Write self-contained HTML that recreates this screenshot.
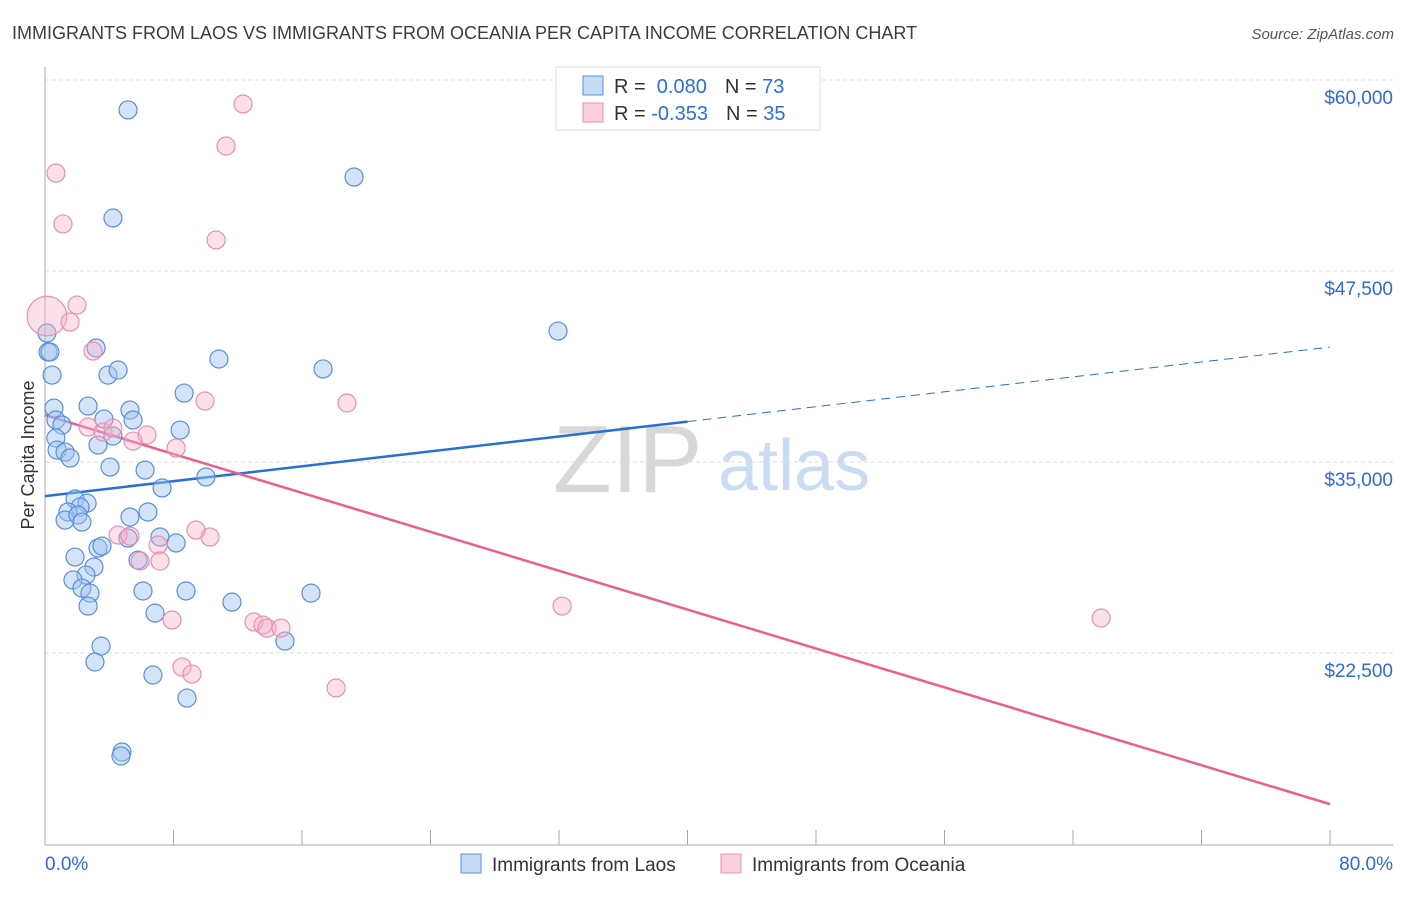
<!DOCTYPE html>
<html><head><meta charset="utf-8"><style>
body{margin:0;background:#fff;font-family:"Liberation Sans",sans-serif;}
svg text{font-family:"Liberation Sans",sans-serif;}
</style></head><body>
<svg id="chart" width="1406" height="892" viewBox="0 0 1406 892" xmlns="http://www.w3.org/2000/svg">
<text x="12" y="39" font-size="18" fill="#3c3c3c">IMMIGRANTS FROM LAOS VS IMMIGRANTS FROM OCEANIA PER CAPITA INCOME CORRELATION CHART</text>
<text x="1394" y="39" font-size="15" fill="#555" text-anchor="end" font-style="italic">Source: ZipAtlas.com</text>
<g>
<text x="553" y="492" font-size="96" fill="#d8d8d8" font-family="Liberation Serif,serif">ZIP</text>
<text x="718" y="490" font-size="72" fill="#c9dcf3">atlas</text>
</g>
<g id="grid"></g>
<g id="axes"></g>
<g id="trends"></g>
<g id="pts"></g>
<text transform="translate(34,455) rotate(-90)" font-size="18" fill="#333" text-anchor="middle">Per Capita Income</text>
<g>
<rect x="556" y="67" width="264" height="63" fill="#fff" stroke="#ddd"/>
<rect x="583" y="76" width="20" height="19" fill="rgba(160,196,240,0.6)" stroke="#5b8fd8"/>
<rect x="583" y="103" width="20" height="19" fill="rgba(245,175,200,0.6)" stroke="#e890b0"/>
<text x="614" y="93" font-size="20" fill="#333">R = <tspan fill="#2a6fd6">&#160;0.080</tspan><tspan dx="18">N = </tspan><tspan fill="#2a6fd6">73</tspan></text>
<text x="614" y="120" font-size="20" fill="#333">R = <tspan fill="#2a6fd6">-0.353</tspan><tspan dx="18">N = </tspan><tspan fill="#2a6fd6">35</tspan></text>
</g>
<g>
<rect x="461" y="854" width="20" height="19" fill="rgba(160,196,240,0.6)" stroke="#5b8fd8"/>
<text x="492" y="871" font-size="19" fill="#333">Immigrants from Laos</text>
<rect x="721" y="854" width="20" height="19" fill="rgba(245,175,200,0.6)" stroke="#e890b0"/>
<text x="752" y="871" font-size="19" fill="#333">Immigrants from Oceania</text>
</g>
</svg>
<script>
const yTicks=[60000,47500,35000,22500];
const yTickLabels=["$60,000","$47,500","$35,000","$22,500"];
const xTickLabels=["0.0%","80.0%"];
const laosX=[5.17,19.24,4.23,31.94,0.12,0.19,0.31,3.18,0.44,3.92,4.55,10.83,17.31,8.66,0.56,2.68,5.29,0.68,1.06,3.67,5.48,0.68,4.23,8.41,3.30,0.75,1.25,1.56,4.05,6.23,10.02,7.29,1.87,2.62,2.18,6.41,1.43,1.25,2.05,2.30,5.29,3.30,3.55,1.87,7.16,8.16,5.17,3.05,5.79,2.55,1.74,2.30,2.80,6.10,8.78,2.68,6.85,11.64,16.56,3.49,14.94,3.11,6.72,8.84,4.79,4.73];
const laosY=[58040,53650,50970,43570,43440,42200,42200,42460,40690,40690,41020,41740,41090,39510,38530,38660,38400,37750,37420,37810,37750,36570,36700,37090,36110,35780,35650,35260,34670,34470,34020,33300,32580,32310,32050,31730,31730,31200,31530,31070,31400,29370,29500,28780,30090,29700,30020,28130,28580,27600,27280,26750,26420,26560,26560,25570,25110,25830,26420,22950,23280,21910,21060,19550,16020,15760];
const oceX=[12.33,11.27,0.68,1.12,10.65,1.99,0.12,1.56,2.99,9.96,18.80,2.68,3.61,4.23,6.35,5.48,8.16,4.55,5.29,10.27,9.40,7.04,5.92,7.16,32.19,65.75,7.91,13.01,13.57,13.82,14.69,8.53,9.15,18.12];
const oceY=[58430,55680,53910,50580,49530,45270,44550,44160,42260,38990,38860,37290,36960,37220,36770,36370,35910,30220,30150,30090,30550,29570,28520,28520,25570,24790,24660,24530,24330,24130,24130,21580,21120,20210];
const oceSize=[1,1,1,1,1,1,2.2,1,1,1,1,1,1,1,1,1,1,1,1,1,1,1,1,1,1,1,1,1,1,1,1,1,1,1];
const laosTrend=[32770,42520];
const oceTrend=[38070,12610];
const NS="http://www.w3.org/2000/svg";
const X=v=>45+v*(1330-45)/80;
const Y=v=>80+(60000-v)*191/12500;
function mk(tag,attrs,parent){const e=document.createElementNS(NS,tag);for(const k in attrs)e.setAttribute(k,attrs[k]);document.getElementById(parent).appendChild(e);return e;}
yTicks.forEach((t,i)=>{
 const g=mk('line',{x1:45,x2:1393,y1:Y(t),y2:Y(t),stroke:'#ddd','stroke-dasharray':'4,3'},'grid');
 
 
 const l=mk('text',{x:1393,y:Y(t)+24,'font-size':19,fill:'#2f6ad6','text-anchor':'end'},'grid');
 l.textContent=yTickLabels[i];
 
 
});
const ax=mk('line',{x1:45,x2:45,y1:67,y2:845,stroke:'#aaa'},'axes');


const bx=mk('line',{x1:45,x2:1393,y1:845,y2:845,stroke:'#aaa'},'axes');


for(let i=0;i<=10;i++){
 const t=mk('line',{x1:X(i*8),x2:X(i*8),y1:830,y2:845,stroke:'#aaa'},'axes');
 
 
}
const xl0=mk('text',{x:45,y:870,'font-size':19,fill:'#2f6ad6'},'axes');xl0.textContent=xTickLabels[0];


const xl1=mk('text',{x:1393,y:870,'font-size':19,fill:'#2f6ad6','text-anchor':'end'},'axes');xl1.textContent=xTickLabels[1];


const lt=v=>laosTrend[0]+(laosTrend[1]-laosTrend[0])*v/80;
const t1=mk('line',{x1:X(0),y1:Y(lt(0)),x2:X(40),y2:Y(lt(40)),stroke:'#2a6fd6','stroke-width':2.5},'trends');


const t2=mk('line',{x1:X(40),y1:Y(lt(40)),x2:X(80),y2:Y(lt(80)),stroke:'#2a6fd6','stroke-width':1,'stroke-dasharray':'9,6'},'trends');


const t3=mk('line',{x1:X(0),y1:Y(oceTrend[0]),x2:X(80),y2:Y(oceTrend[1]),stroke:'#e8608f','stroke-width':2.5},'trends');


laosX.forEach((x,i)=>{
 const c=mk('circle',{cx:X(x),cy:Y(laosY[i]),r:9,fill:'rgba(160,196,240,0.45)',stroke:'#5b8fd8','stroke-width':1.2},'pts');
 
 
});
oceX.forEach((x,i)=>{
 const c=mk('circle',{cx:X(x),cy:Y(oceY[i]),r:9*oceSize[i],fill:'rgba(245,175,200,0.4)',stroke:'#e890b0','stroke-width':1.2},'pts');
 
 
});
</script>
</body></html>
